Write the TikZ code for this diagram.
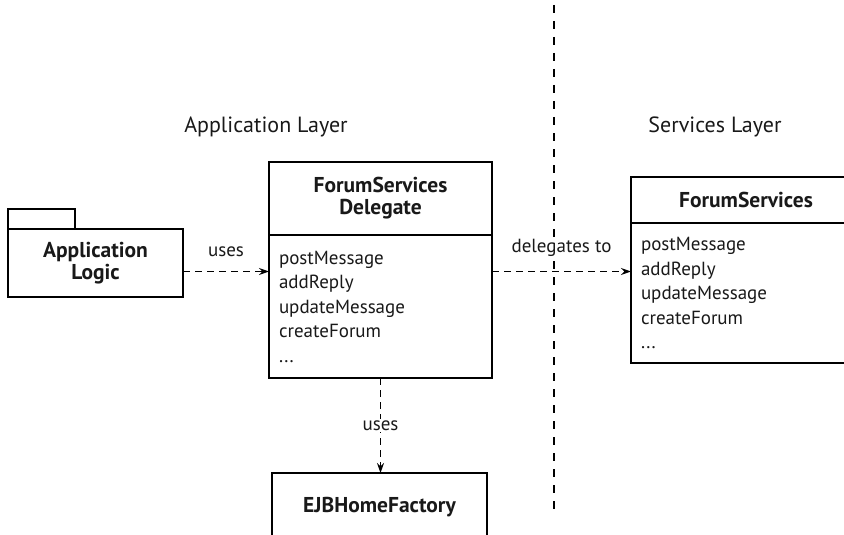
\documentclass[tikz,border=0pt]{standalone}
\usepackage{fontspec}
\setmainfont{PT Sans}
\usetikzlibrary{arrows.meta,positioning}

\begin{document}
\begin{tikzpicture}[x=1pt,y=-1pt,>={Stealth[length=10pt,width=7pt]},
  box/.style={draw,line width=1.2pt,inner sep=0pt,outer sep=0pt,text=black!90},
  title/.style={box,font=\fontsize{21.5}{22}\selectfont\bfseries,align=center},
  ops/.style={box,font=\fontsize{19}{24.5}\selectfont,align=left,inner xsep=10pt},
  dep/.style={->,line width=1.2pt,dash pattern=on 7pt off 5pt},
  lbl/.style={font=\fontsize{19}{22}\selectfont,fill=white,inner sep=2pt,text=black!90},
  layer/.style={font=\fontsize{22}{24}\selectfont,text=black!90}]
\clip (0,0) rectangle (844,535);
\fill[white] (0,0) rectangle (844,535);
% layer boundary
\coordinate (septop) at (554,5);
\coordinate (sepbot) at (554,515);
\draw[line width=1.1pt,dash pattern=on 8pt off 8pt] (septop) -- (sepbot);

\node[layer] (applayer) at (266,127) {Application Layer};
\node[layer] (svclayer) at (715,127) {Services Layer};

% client package
\node[title,minimum width=175pt,minimum height=68pt] (logic) at (95.5,263) {Application\\Logic};
\draw[line width=1.2pt] (logic.north west) rectangle ++(67,-20);

% delegate class
\node[title,minimum width=223pt,minimum height=73pt] (dtitle) at (380.5,198.5) {ForumServices\\Delegate};
\node[ops,minimum width=223pt,minimum height=143pt,text width=203pt,below=0pt of dtitle] (dops)
  {postMessage\\addReply\\updateMessage\\createForum\\...};

% service class
\node[title,minimum width=230pt,minimum height=46pt] (fstitle) at (746,200) {ForumServices};
\node[ops,minimum width=230pt,minimum height=140pt,text width=210pt,below=0pt of fstitle] (fsops)
  {postMessage\\addReply\\updateMessage\\createForum\\...};

\node[title,minimum width=215pt,minimum height=68pt] (ejb) at (379.5,507) {EJBHomeFactory};

% dependencies
\coordinate (u) at ([yshift=-8.5pt]logic.east);
\draw[dep] (u) -- (u -| dops.west) node[lbl,midway,above=12pt] (uses1) {uses};
\draw[dep] (u -| dops.east) -- (u -| fsops.west) node[lbl,midway,above=12pt] (deleg) {delegates to};
\draw[dep] (dops.south) -- (dops.south |- ejb.north) node[lbl,midway] (uses2) {uses};
\end{tikzpicture}
\end{document}
